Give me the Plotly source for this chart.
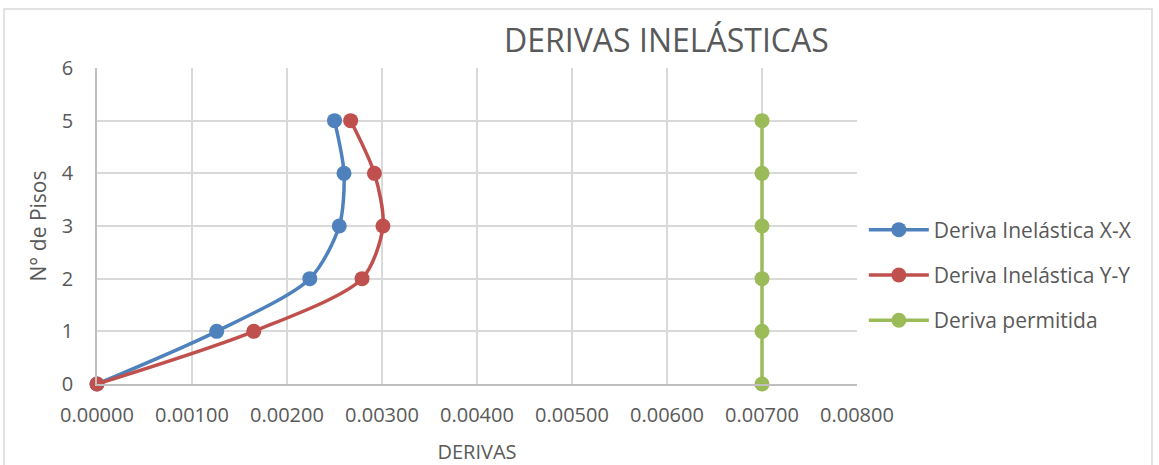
import plotly.graph_objects as go

pisos = [0, 1, 2, 3, 4, 5]
deriva_xx = [0.0, 0.00126, 0.00224, 0.00255, 0.00260, 0.00250]
deriva_yy = [0.0, 0.00165, 0.00279, 0.00301, 0.00292, 0.00267]
deriva_perm = [0.007, 0.007, 0.007, 0.007, 0.007, 0.007]
x_ticks = [0.000, 0.001, 0.002, 0.003, 0.004, 0.005, 0.006, 0.007, 0.008]

FONT = "Open Sans"
TXT = "#595959"

fig = go.Figure()
series = [
    ("Deriva Inelástica X-X", deriva_xx, "#4f81bd"),
    ("Deriva Inelástica Y-Y", deriva_yy, "#c0504d"),
    ("Deriva permitida", deriva_perm, "#9bbb59"),
]
for i, (name, xs, col) in enumerate(series):
    fig.add_trace(go.Scatter(
        x=xs, y=pisos, name=name, mode="lines+markers",
        line=dict(color=col, width=3.5, shape="spline", smoothing=0.8),
        marker=dict(color=col, size=15),
        cliponaxis=False, legendgroup=f"g{i}",
    ))

fig.update_layout(
    width=1159, height=465,
    margin=dict(l=97, r=302, t=68, b=81, autoexpand=False),
    paper_bgcolor="white", plot_bgcolor="white",
    font=dict(family=FONT, color=TXT, size=19),
    title=dict(text="DERIVAS INELÁSTICAS", x=0.575, xanchor="center",
               y=0.912, yanchor="middle",
               font=dict(family=FONT, size=32, color=TXT)),
    legend=dict(x=1.009, y=0.345, xanchor="left", yanchor="middle",
                font=dict(size=21, color=TXT), tracegroupgap=15,
                itemwidth=60, bgcolor="rgba(0,0,0,0)"),
    showlegend=True,
)
fig.update_xaxes(
    range=[0, 0.008], tickvals=x_ticks, tickformat=".5f",
    showgrid=True, gridcolor="#d9d9d9", gridwidth=1.5,
    showline=True, linecolor="#bfbfbf", linewidth=1.5, mirror=False,
    ticks="outside", ticklen=0, ticklabelstandoff=12,
    tickfont=dict(size=20, color=TXT), zeroline=False, automargin=False,
    title=dict(text="DERIVAS", font=dict(size=20, color=TXT), standoff=18),
)
fig.update_yaxes(
    range=[0, 6], dtick=1,
    showgrid=True, gridcolor="#d9d9d9", gridwidth=1.5,
    showline=True, linecolor="#bfbfbf", linewidth=1.5,
    ticks="outside", ticklen=0, ticklabelstandoff=18,
    tickfont=dict(size=20, color=TXT), zeroline=False, automargin=False,
    title=dict(text="N° de Pisos", font=dict(size=21, color=TXT), standoff=9),
)
# outer chart border
fig.add_shape(type="rect", xref="paper", yref="paper",
              x0=(4 - 97) / 760, x1=(1152 - 97) / 760,
              y0=-0.4, y1=(384 - 9) / 316,
              line=dict(color="#d9d9d9", width=1.5), fillcolor="rgba(0,0,0,0)",
              layer="below")

fig.write_html("out.html", config={"displayModeBar": False},
               post_script="document.body.style.margin='0';document.body.style.padding='0';")
